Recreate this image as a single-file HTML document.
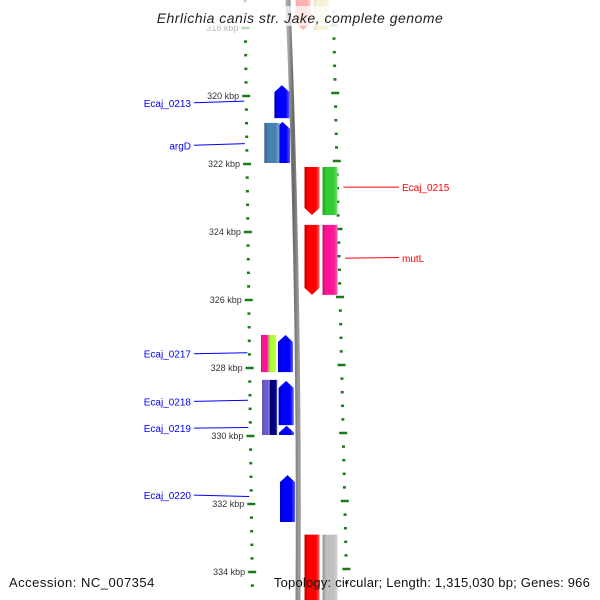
<!DOCTYPE html>
<html><head><meta charset="utf-8"><style>
body{margin:0;background:#fff;overflow:hidden;}
svg{display:block;font-family:"Liberation Sans","DejaVu Sans",sans-serif;}
</style></head><body>
<svg id="map" width="600" height="600" viewBox="0 0 600 600">
<defs>
<linearGradient id="sh" x1="0" x2="1" y1="0" y2="0">
<stop offset="0" stop-color="#000" stop-opacity="0.25"/>
<stop offset="0.25" stop-color="#000" stop-opacity="0"/>
<stop offset="0.75" stop-color="#fff" stop-opacity="0"/>
<stop offset="1" stop-color="#fff" stop-opacity="0.35"/>
</linearGradient>
<linearGradient id="bb" x1="0" x2="1">
<stop offset="0" stop-color="#aaa"/><stop offset="0.5" stop-color="#666"/><stop offset="1" stop-color="#999"/>
</linearGradient>
</defs>
<path d="M288,0 Q300,300 298,600" stroke="url(#bb)" stroke-width="5" fill="none"/>
<g id="ticks"></g>
<g id="genes"></g>
<g id="labels"></g>
<rect x="150" y="6" width="300" height="20" fill="#fff" fill-opacity="0.7"/>
<text x="300" y="23" text-anchor="middle" font-size="14" font-style="italic" letter-spacing="0.5" fill="#222">Ehrlichia canis str. Jake, complete genome</text>
<text x="9" y="587" font-size="13" letter-spacing="0.5" fill="#111">Accession: NC_007354</text>
<text x="590" y="587" text-anchor="end" font-size="13" letter-spacing="0.2" fill="#111">Topology: circular; Length: 1,315,030 bp; Genes: 966</text>
</svg>
<script>
const ns="http://www.w3.org/2000/svg";
const majorTicks=[318,320,322,324,326,328,330,332,334];
const geneNames=["Ecaj_0213","argD_a","argD_b","Ecaj_0217_a","Ecaj_0217_b","Ecaj_0217_c","Ecaj_0218_a","Ecaj_0218_b","Ecaj_0218_c","Ecaj_0219","Ecaj_0220","Ecaj_0215_a","Ecaj_0215_b","mutL_a","mutL_b","top_a","top_b","bottom_a","bottom_b"];
const geneStart=[319.68,320.76,320.79,327.03,327.03,327.03,328.35,328.35,328.38,329.7,331.15,322.09,322.09,323.79,323.79,317.0,317.0,332.9,332.9];
const geneEnd=[320.65,321.97,321.97,328.12,328.12,328.12,329.97,329.97,329.68,329.97,332.53,323.5,323.5,325.85,325.85,318.06,318.06,335.2,335.2];
const geneLane=[2,2,1,0.6,1.05,2,0.6,1.05,2,2,2,3,4,3,4,3,4,3,4];
const geneColor=["#0000ff","#0000ff","#4682b4","#ff1493","#adff2f","#0000ff","#6a5acd","#000080","#0000ff","#0000ff","#0000ff","#ff0000","#32cd32","#ff0000","#ff1493","#ff0000","#e6d280","#ff0000","#c0c0c0"];
const geneDir=[1,1,0,0,0,1,0,0,1,1,1,-1,0,-1,0,-1,0,0,0];
const labelText=["Ecaj_0213","argD","Ecaj_0217","Ecaj_0218","Ecaj_0219","Ecaj_0220","Ecaj_0215","mutL"];
const labelPos=[320.15,321.4,327.55,328.95,329.75,331.78,322.68,324.75];
const labelSide=[-1,-1,-1,-1,-1,-1,1,1];
const labelTextY=[320.2,321.45,327.58,328.98,329.77,331.74,322.68,324.77];

function y(k){return 28+(k-318)*34;}
function xL(yy){return 245+yy*7.5/600;}
function xR(yy){return 333+yy*14/600;}
function laneX(l,yy){
 if(l>=3){const r=Math.min(304.5,295+yy*0.05);return l===3?r:r+18;}
 if(l>=2)return 273+yy*0.014;
 const b=254+yy*0.02;return l<1?b:b+7.5;
}
function mk(t,a,p){const e=document.createElementNS(ns,t);for(const k in a)e.setAttribute(k,a[k]);p.appendChild(e);return e;}
const T=document.getElementById('ticks'),G=document.getElementById('genes'),L=document.getElementById('labels');
for(let k=317.2;k<=335.01;k+=0.4){
 const yy=y(k);if(yy>598)break;const maj=majorTicks.some(m=>Math.abs(m-k)<0.01);
 const op=yy<40?0.3:1;
 const a=mk('line',{x1:xL(yy)-(maj?4:1.5),x2:xL(yy)+(maj?4:1.5),y1:yy,y2:yy,stroke:'#1a7a1a','stroke-width':2.5,'stroke-opacity':op},T);
 
 
 const b=mk('line',{x1:xR(yy)-(maj?4:1.5),x2:xR(yy)+(maj?4:1.5),y1:yy-3,y2:yy-3,stroke:'#1a7a1a','stroke-width':2.5,'stroke-opacity':op},T);
 
 
}
majorTicks.forEach(m=>{const yy=y(m);
 const t=mk('text',{x:xL(yy)-7,y:yy+3,'text-anchor':'end','font-size':9,fill:'#333','fill-opacity':yy<40?0.35:1},T);t.textContent=m+' kbp';
 
 });
geneNames.forEach((n,i)=>{
 const y1=y(geneStart[i]),y2=Math.min(600,y(geneEnd[i]));const x=laneX(geneLane[i],(y1+y2)/2);
 const w=(geneLane[i]<2)?(geneLane[i]%1?7.5:15):15;const h=7;let pts;
 if(geneDir[i]===1)pts=[[x,y1+h],[x+w/2,y1],[x+w,y1+h],[x+w,y2],[x,y2]];
 else if(geneDir[i]===-1)pts=[[x,y1],[x+w,y1],[x+w,y2-h],[x+w/2,y2],[x,y2-h]];
 else pts=[[x,y1],[x+w,y1],[x+w,y2],[x,y2]];
 const ps=pts.map(p=>p.join(',')).join(' ');
 const g=mk('g',{opacity:(y1<30)?0.3:1},G);
 
 
 mk('polygon',{points:ps,fill:geneColor[i]},g);
 mk('polygon',{points:ps,fill:'url(#sh)'},g);
});
labelText.forEach((t,i)=>{
 const yy=y(labelPos[i]);const ty=y(labelTextY[i]);const c=labelSide[i]<0?'#0000ff':'#ff0000';
 let lx1,lx2,tx,anc;
 if(labelSide[i]<0){lx1=194;lx2=xL(yy)-2;tx=191;anc='end';}
 else{lx1=xR(yy)+6;lx2=399;tx=402;anc='start';}
 const l=mk('line',{x1:lx1,x2:lx2,y1:ty,y2:yy,stroke:c,'stroke-width':1},L);
 
 
 const e=mk('text',{x:tx,y:ty+4,'text-anchor':anc,'font-size':10,fill:c},L);e.textContent=t;
 
 
});
</script>
</body></html>
